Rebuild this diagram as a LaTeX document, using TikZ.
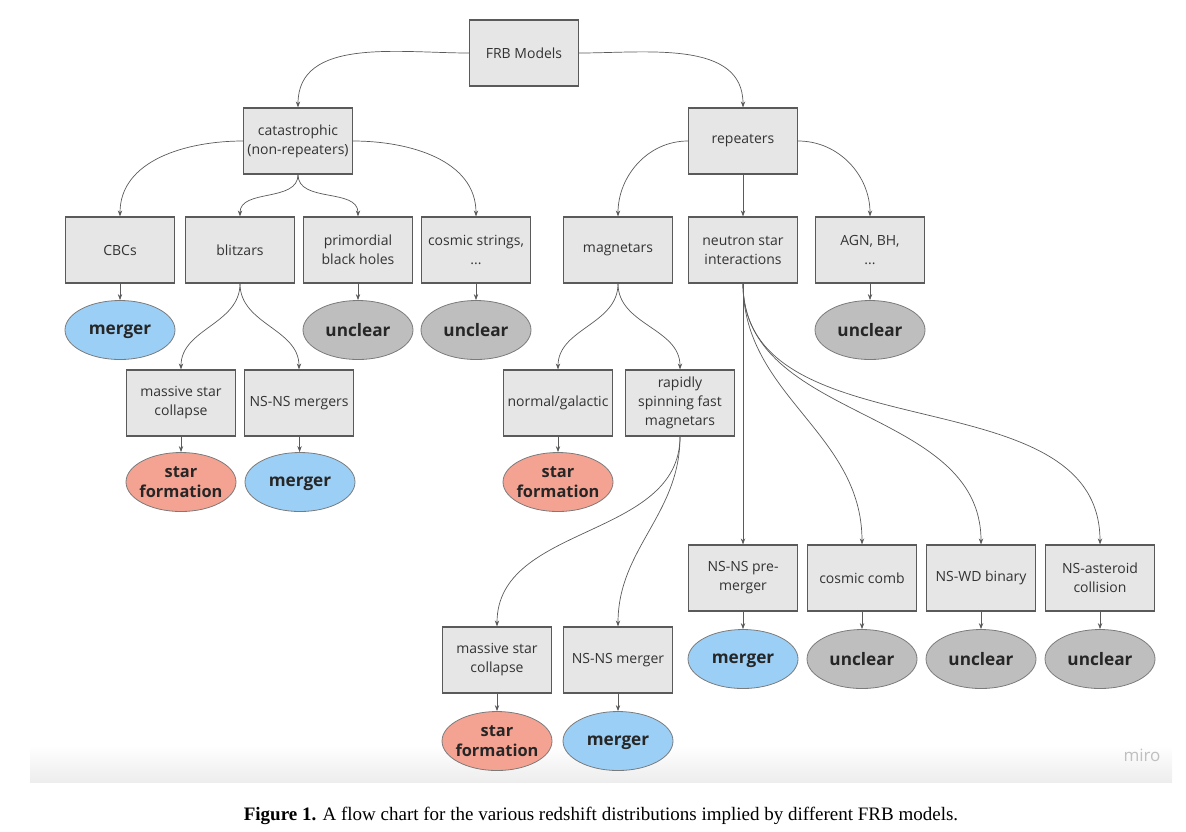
\documentclass[tikz,border=0pt]{standalone}
\usepackage{fontspec}
\setmainfont{Liberation Serif}
\newfontfamily\boxfont{Open Sans}
\usepackage{tikz}
\usetikzlibrary{arrows.meta,shapes.geometric}
\definecolor{boxgray}{HTML}{E6E6E6}
\definecolor{edgegray}{HTML}{5A5A5A}
\definecolor{mergeblue}{HTML}{9CCFF5}
\definecolor{starred}{HTML}{F4A392}
\definecolor{unclgray}{HTML}{BEBEBE}
\tikzset{
  box/.style={draw=edgegray, line width=0.6pt, fill=boxgray, minimum width=54.5pt, minimum height=33pt,
    align=center, inner sep=1pt, font=\boxfont\fontsize{7}{9.5}\selectfont, text=black!80},
  outc/.style={ellipse, draw=edgegray!80, line width=0.4pt, minimum width=55pt, minimum height=29.5pt,
    align=center, inner sep=0pt, font=\boxfont\bfseries\fontsize{8.6}{10}\selectfont, text=black!85},
  mrg/.style={outc, fill=mergeblue, text depth=0pt},
  sfm/.style={outc, fill=starred, inner xsep=-3pt, font=\boxfont\bfseries\fontsize{8.2}{10}\selectfont},
  unc/.style={outc, fill=unclgray},
  conn/.style={draw=edgegray, line width=0.35pt, -{Stealth[length=3pt,width=2.2pt]}}
}
\begin{document}
\begin{tikzpicture}[x=0.5pt,y=-0.5pt]
\useasboundingbox (0,0) rectangle (1186,831);
\shade[top color=white, bottom color=black!7] (30,745) rectangle (1172,782);
\node[text=black!25, font=\boxfont\fontsize{8.5}{10}\selectfont] (miro) at (1142,755) {miro};
% top levels
\node[box] (frb) at (524,53) {FRB Models};
\node[box] (cat) at (298,141) {catastrophic\\(non-repeaters)};
\node[box] (rep) at (743,141) {repeaters};
% second row
\node[box] (cbc) at (120,250) {CBCs};
\node[box] (blz) at (240,250) {blitzars};
\node[box] (pbh) at (358,250) {primordial\\black holes};
\node[box] (cst) at (476,250) {cosmic strings,\\...};
\node[box] (mag) at (618,250) {magnetars};
\node[box] (nsi) at (743,250) {neutron star\\interactions};
\node[box] (agn) at (870,250) {AGN, BH,\\...};
\node[mrg] (cbcO) at (120,330) {merger};
\node[unc] (pbhO) at (358,330) {unclear};
\node[unc] (cstO) at (476,330) {unclear};
\node[unc] (agnO) at (870,330) {unclear};
% third row
\node[box] (msc) at (181,403) {massive star\\collapse};
\node[box] (nsm) at (299,403) {NS-NS mergers};
\node[box] (gal) at (558,403) {normal/galactic};
\node[box] (rsf) at (680,403) {rapidly\\spinning fast\\magnetars};
\node[sfm] (mscO) at (181,482) {star\\formation};
\node[mrg] (nsmO) at (300,482) {merger};
\node[sfm] (galO) at (558,482) {star\\formation};
% neutron star branch
\node[box] (pre) at (743,578) {NS-NS pre-\\merger};
\node[box] (cmb) at (862,578) {cosmic comb};
\node[box] (nwd) at (981,578) {NS-WD binary};
\node[box] (ast) at (1100,578) {NS-asteroid\\collision};
\node[mrg] (preO) at (743,659) {merger};
\node[unc] (cmbO) at (862,659) {unclear};
\node[unc] (nwdO) at (981,659) {unclear};
\node[unc] (astO) at (1100,659) {unclear};
% fast magnetar branch
\node[box] (msc2) at (497,660) {massive star\\collapse};
\node[box] (nsm2) at (618,660) {NS-NS merger};
\node[sfm] (msc2O) at (497,741) {star\\formation};
\node[mrg] (nsm2O) at (618,741) {merger};
% caption
\node[font=\fontsize{9.5}{11}\selectfont] (cap) at (601,816) {\textbf{Figure 1.} A flow chart for the various redshift distributions implied by different FRB models.};
% connectors
\draw[conn] (frb.west) to[out=180,in=90] (cat.north);
\draw[conn] (frb.east) to[out=0,in=90] (rep.north);
\draw[conn] (cat.west) to[out=180,in=90] (cbc.north);
\draw[conn] (cat.south) to[out=-90,in=90] (blz.north);
\draw[conn] (cat.south) to[out=-90,in=90] (pbh.north);
\draw[conn] (cat.east) to[out=0,in=90] (cst.north);
\draw[conn] (rep.west) to[out=180,in=90] (mag.north);
\draw[conn] (rep.south) -- (nsi.north);
\draw[conn] (rep.east) to[out=0,in=90] (agn.north);
\draw[conn] (cbc) -- (cbcO);
\draw[conn] (pbh) -- (pbhO);
\draw[conn] (cst) -- (cstO);
\draw[conn] (agn) -- (agnO);
\draw[conn] (blz.south) to[out=-90,in=90] (msc.north);
\draw[conn] (blz.south) to[out=-90,in=90] (nsm.north);
\draw[conn] (msc) -- (mscO);
\draw[conn] (nsm) -- (nsmO);
\draw[conn] (mag.south) to[out=-90,in=90] (gal.north);
\draw[conn] (mag.south) to[out=-90,in=90] (rsf.north);
\draw[conn] (gal) -- (galO);
\draw[conn] (rsf.south) to[out=-90,in=90] (msc2.north);
\draw[conn] (rsf.south) to[out=-90,in=90] (nsm2.north);
\draw[conn] (msc2) -- (msc2O);
\draw[conn] (nsm2) -- (nsm2O);
\draw[conn] (nsi.south) -- (pre.north);
\draw[conn] (nsi.south) to[out=-90,in=90] (cmb.north);
\draw[conn] (nsi.south) to[out=-90,in=90] (nwd.north);
\draw[conn] (nsi.south) to[out=-90,in=90] (ast.north);
\draw[conn] (pre) -- (preO);
\draw[conn] (cmb) -- (cmbO);
\draw[conn] (nwd) -- (nwdO);
\draw[conn] (ast) -- (astO);
\end{tikzpicture}
\end{document}
